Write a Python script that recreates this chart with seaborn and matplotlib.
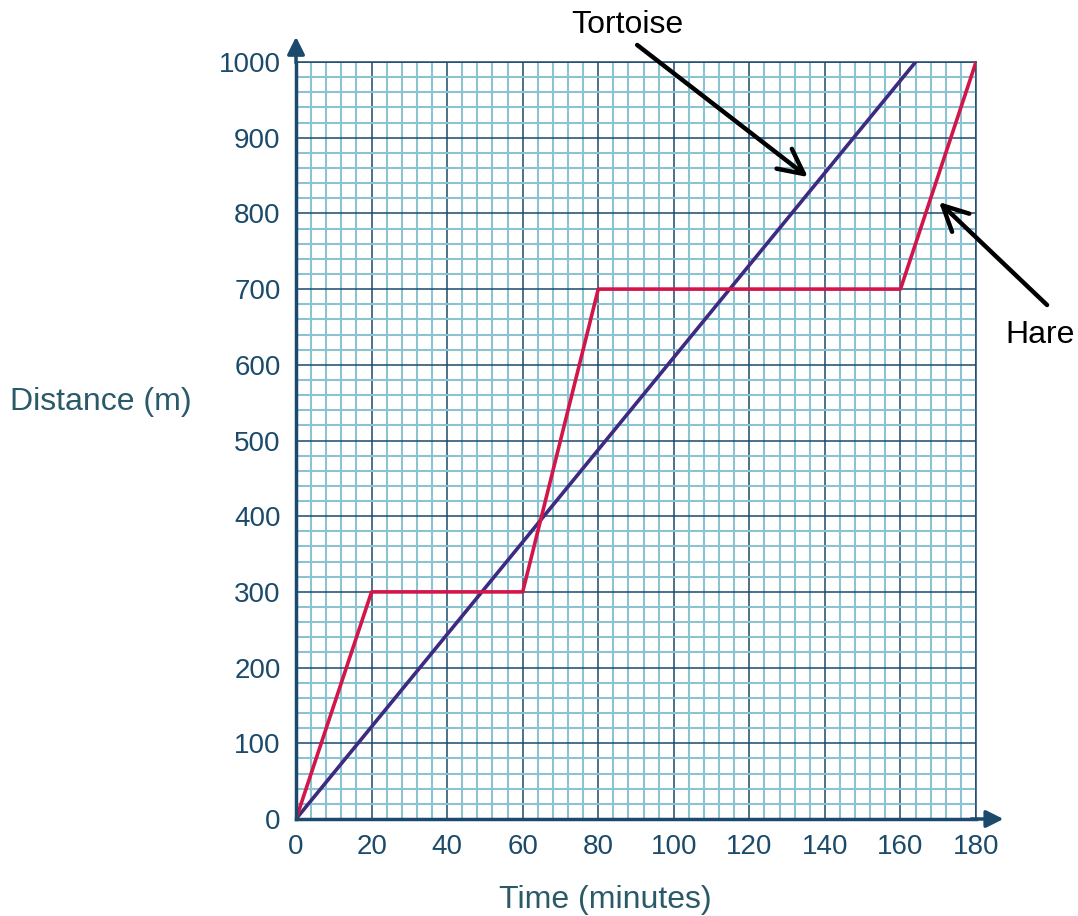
import pandas as pd
import seaborn as sns
import matplotlib.pyplot as plt
from matplotlib.ticker import MultipleLocator

# Distance-time data
tortoise_time = [0, 164]
tortoise_dist = [0, 1000]

hare_time = [0, 20, 60, 80, 160, 180]
hare_dist = [0, 300, 300, 700, 700, 1000]

x_ticks = list(range(0, 181, 20))
y_ticks = list(range(0, 1001, 100))

navy = "#1b4a6c"
light = "#8cc3d2"
text_col = "#1b4a6a"
purple = "#3f2a82"
crimson = "#d2164a"

sns.set_style("white")
plt.rcParams["font.family"] = ["Liberation Sans", "DejaVu Sans"]

df = pd.concat([
    pd.DataFrame({"time": tortoise_time, "dist": tortoise_dist, "who": "Tortoise"}),
    pd.DataFrame({"time": hare_time, "dist": hare_dist, "who": "Hare"}),
])

fig = plt.figure(figsize=(10.78, 9.16), dpi=100)
ax = fig.add_axes([0.2746, 0.1059, 0.6308, 0.8264])

# graph paper grid
ax.xaxis.set_minor_locator(MultipleLocator(4))
ax.yaxis.set_minor_locator(MultipleLocator(20))
ax.grid(which="minor", color=light, lw=1.5, zorder=0)
ax.grid(which="major", color=navy, lw=1.1, zorder=0.5)
ax.set_axisbelow(True)

sns.lineplot(data=df, x="time", y="dist", hue="who",
             palette={"Tortoise": purple, "Hare": crimson},
             lw=2.6, legend=False, ax=ax, zorder=3, sort=False)

ax.set_xlim(0, 180)
ax.set_ylim(0, 1000)
ax.set_xticks(x_ticks)
ax.set_yticks(y_ticks)
ax.tick_params(which="major", direction="out", length=7, width=1.4, color=navy,
               labelsize=20, labelcolor=text_col, pad=4)
ax.tick_params(which="minor", length=0)

for side in ["left", "bottom"]:
    ax.spines[side].set_color(navy)
    ax.spines[side].set_linewidth(2.5)
    ax.spines[side].set_zorder(4)
for side in ["top", "right"]:
    ax.spines[side].set_color(navy)
    ax.spines[side].set_linewidth(1.1)

ax.set_xlabel("")
ax.set_ylabel("")

# axis arrows
ax.annotate("", xy=(0, 1037), xytext=(0, 995), annotation_clip=False,
            arrowprops=dict(arrowstyle="-|>", color=navy, lw=2.5, mutation_scale=26))
ax.annotate("", xy=(188, 0), xytext=(178, 0), annotation_clip=False,
            arrowprops=dict(arrowstyle="-|>", color=navy, lw=2.5, mutation_scale=26))

# labels
fig.text(10 / 1078, 1 - 402 / 916, "Distance (m)", fontsize=23, color="#2a5a6a",
         ha="left", va="center")
fig.text(605 / 1078, 1 - 900 / 916, "Time (minutes)", fontsize=23, color="#2a5a6a",
         ha="center", va="center")

# callouts
ax.text(87.6, 1049, "Tortoise", fontsize=23, color="black", ha="center", va="center")
ax.text(196.9, 639, "Hare", fontsize=23, color="black", ha="center", va="center")
head = dict(arrowstyle="->,head_width=0.45,head_length=0.9", color="black",
            lw=3.2, mutation_scale=20, shrinkA=0, shrinkB=0)
ax.annotate("", xy=(135.5, 848), xytext=(90.3, 1022.5), annotation_clip=False,
            arrowprops=head)
ax.annotate("", xy=(170.2, 815), xytext=(198.8, 679), annotation_clip=False,
            arrowprops=head)

fig.savefig("out.png", dpi=100)
